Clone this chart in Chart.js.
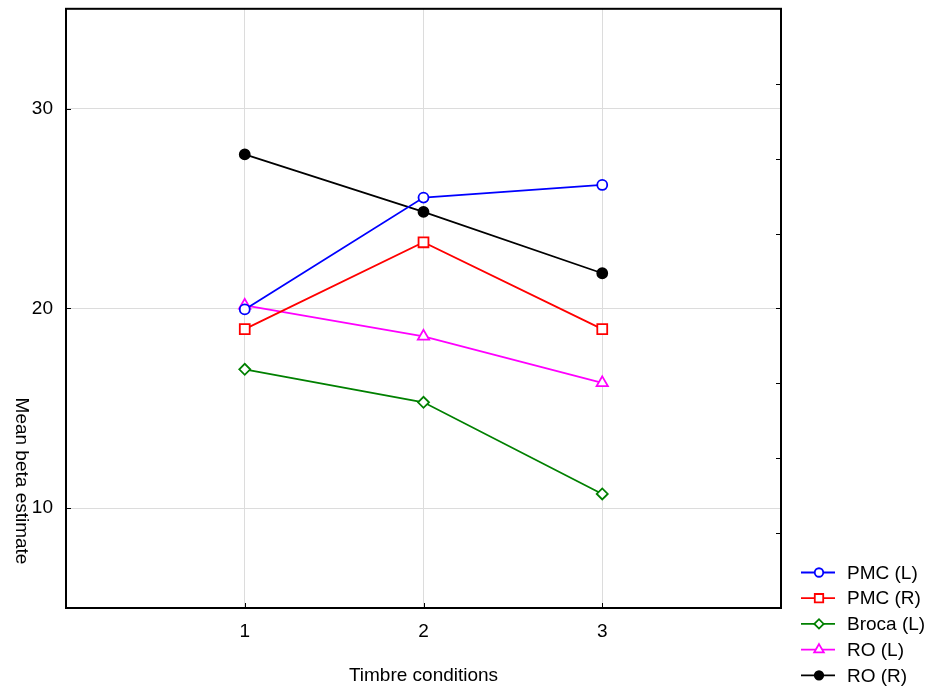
<!DOCTYPE html>
<html>
<head>
<meta charset="utf-8">
<script src="https://cdn.jsdelivr.net/npm/chart.js@4.4.1/dist/chart.umd.min.js"></script>
<style>
  html, body { margin: 0; padding: 0; background: #fff; }
  #wrap { width: 932px; height: 689px; }
</style>
</head>
<body>
<div id="wrap"><canvas id="beta-chart"></canvas></div>
<script>
// data
const conditions = [1, 2, 3];
const seriesNames = ["PMC (L)", "PMC (R)", "Broca (L)", "RO (L)", "RO (R)"];
const pmcLeft = [19.95, 25.55, 26.18];
const pmcRight = [18.96, 23.31, 18.96];
const brocaLeft = [16.95, 15.3, 10.71];
const roLeft = [20.15, 18.6, 16.27];
const roRight = [27.71, 24.83, 21.76];
const yTicks = [10, 20, 30];
const rightTicks = [8.75, 12.5, 16.25, 20, 23.75, 27.5, 31.25];

const FONT = "'Liberation Sans', Arial, sans-serif";
const canvas = document.getElementById("beta-chart");

function series(name, values, color, style, radius, fill) {
    return {
        label: name,
        data: conditions.map((c, i) => ({ x: c, y: values[i] })),
        borderColor: color,
        backgroundColor: fill,
        borderWidth: 1.8,
        pointStyle: style,
        pointRadius: radius,
        pointBorderWidth: 1.8,
        pointBorderColor: color,
        pointBackgroundColor: fill,
        tension: 0
    };
}

// frame, inward ticks, rotated y title and legend
const framePlugin = {
    id: "frame",
    afterDraw(chart) {
        const ctx = chart.ctx;
        const a = chart.chartArea;
        const xs = chart.scales.x;
        const ys = chart.scales.y;
        ctx.save();
        ctx.strokeStyle = "#000";
        ctx.lineWidth = 1;
        ctx.beginPath();
        yTicks.forEach(v => {
            const py = Math.round(ys.getPixelForValue(v)) + 0.5;
            ctx.moveTo(a.left, py); ctx.lineTo(a.left + 5, py);
        });
        rightTicks.forEach(v => {
            const py = Math.round(ys.getPixelForValue(v)) + 0.5;
            ctx.moveTo(a.right - 5, py); ctx.lineTo(a.right, py);
        });
        conditions.forEach(v => {
            const px = Math.round(xs.getPixelForValue(v)) + 0.5;
            ctx.moveTo(px, a.bottom); ctx.lineTo(px, a.bottom - 5);
        });
        ctx.stroke();
        ctx.lineWidth = 2;
        ctx.strokeRect(a.left, a.top, a.right - a.left, a.bottom - a.top);

        // y title reads top to bottom
        ctx.fillStyle = "#000";
        ctx.font = "19px " + FONT;
        ctx.textAlign = "center";
        ctx.textBaseline = "middle";
        ctx.translate(21, 481);
        ctx.rotate(Math.PI / 2);
        ctx.fillText("Mean beta estimate", 0, 0);
        ctx.restore();

        // legend
        ctx.save();
        ctx.font = "19px " + FONT;
        ctx.textBaseline = "middle";
        ctx.textAlign = "left";
        chart.data.datasets.forEach((ds, i) => {
            const ly = 572.5 + i * 25.7;
            ctx.strokeStyle = ds.borderColor;
            ctx.lineWidth = 1.8;
            ctx.beginPath();
            ctx.moveTo(801, ly); ctx.lineTo(835, ly);
            ctx.stroke();
            ctx.fillStyle = ds.pointBackgroundColor;
            Chart.helpers.drawPoint(ctx, {
                pointStyle: ds.pointStyle,
                radius: ds.pointRadius * 0.85,
                borderWidth: 1.8,
                rotation: 0
            }, 819, ly);
            ctx.fillStyle = "#000";
            ctx.fillText(ds.label, 847, ly + 1);
        });
        ctx.restore();
    }
};

let betaChart = new Chart(canvas, {
    type: "line",
    data: {
        datasets: [
            series(seriesNames[0], pmcLeft, "#0000ff", "circle", 5, "#ffffff"),
            series(seriesNames[1], pmcRight, "#ff0000", "rect", 7, "#ffffff"),
            series(seriesNames[2], brocaLeft, "#008000", "rectRot", 5.5, "#ffffff"),
            series(seriesNames[3], roLeft, "#ff00ff", "triangle", 6.5, "#ffffff"),
            series(seriesNames[4], roRight, "#000000", "circle", 5, "#000000")
        ]
    },
    options: {
        responsive: true,
        maintainAspectRatio: false,
        animation: false,
        layout: { padding: { top: 7, right: 151, left: 0, bottom: 0 } },
        plugins: {
            legend: { display: false },
            tooltip: { enabled: false }
        },
        scales: {
            x: {
                type: "linear",
                min: 0,
                max: 4,
                afterBuildTicks: s => { s.ticks = conditions.map(v => ({ value: v })); },
                afterFit: s => { s.height = 81; s.paddingLeft = 0; s.paddingRight = 0; },
                grid: { color: "#dcdcdc", lineWidth: 1, tickLength: 0 },
                border: { display: false },
                ticks: {
                    color: "#000",
                    font: { family: FONT, size: 19 },
                    padding: 12,
                    maxRotation: 0
                },
                title: {
                    display: true,
                    text: "Timbre conditions",
                    color: "#000",
                    font: { family: FONT, size: 19 },
                    padding: { top: 0, bottom: 2 }
                }
            },
            y: {
                min: 5,
                max: 35,
                afterBuildTicks: s => { s.ticks = yTicks.map(v => ({ value: v })); },
                afterFit: s => { s.width = 66; s.paddingTop = 0; s.paddingBottom = 0; },
                grid: { color: "#dcdcdc", lineWidth: 1, tickLength: 0 },
                border: { display: false },
                ticks: {
                    color: "#000",
                    font: { family: FONT, size: 19 },
                    padding: 13
                }
            }
        }
    },
    plugins: [framePlugin]
});
</script>
</body>
</html>
